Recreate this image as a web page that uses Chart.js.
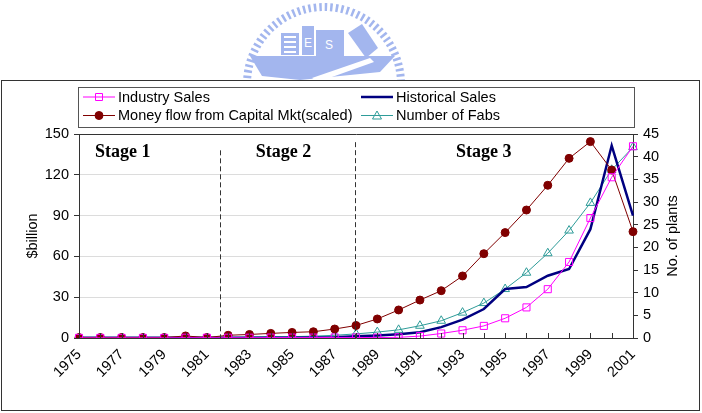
<!DOCTYPE html>
<html>
<head>
<meta charset="utf-8">
<script src="https://cdn.jsdelivr.net/npm/chart.js@4.4.0/dist/chart.umd.min.js"></script>
<style>
html, body { margin: 0; padding: 0; background: #fff; }
#wrap { position: relative; width: 702px; height: 413px; }
#logo, #chart { position: absolute; left: 0; top: 0; }
</style>
</head>
<body>
<div id="wrap">
  <svg id="logo" width="702" height="413">
    <g fill="#a3b6ee" stroke="none">
      <circle cx="324" cy="84" r="77" fill="none" stroke="#a3b6ee" stroke-width="8" stroke-dasharray="2.5 3"/>
      <rect x="281" y="33" width="18" height="22"/>
      <rect x="302" y="26" width="12" height="29"/>
      <rect x="316" y="30" width="28" height="26"/>
      <polygon points="348,33 362,24 378,48 366,58"/>
      <path d="M250,56 L395,56 L380,72 L300,80 L262,76 Z"/>
    </g>
    <g fill="#fff" font-family="Liberation Sans" font-size="12">
      <rect x="284" y="36" width="12" height="2"/><rect x="284" y="41" width="12" height="2"/>
      <rect x="284" y="46" width="12" height="2"/><rect x="284" y="51" width="12" height="2"/>
      <text x="304" y="47">E</text><text x="325" y="49">S</text>
      <path d="M312,78 L370,58 L374,62 L318,82 Z"/>
    </g>
  </svg>
  <canvas id="chart" width="702" height="413"></canvas>
</div>
<script>
// values
const years = ['1975','1976','1977','1978','1979','1980','1981','1982','1983','1984','1985','1986','1987','1988',
               '1989','1990','1991','1992','1993','1994','1995','1996','1997','1998','1999','2000','2001'];
const xTickLabels = ['1975','1977','1979','1981','1983','1985','1987','1989','1991','1993','1995','1997','1999','2001'];

// $billion (left axis)
const industrySales = [0.1,0.1,0.1,0.1,0.1,0.2,0.2,0.2,0.2,0.3,0.3,0.3,0.4,0.4,
                       0.3,0.5,1.4,3.3,5.7,8.9,14.5,22.5,35.9,55.9,88.2,118.2,141];
const moneyFlow = [0.3,0.3,0.3,0.3,0.3,1.5,0.3,2.0,2.6,3.4,4.1,4.6,6.6,9.2,
                   14,20.6,27.9,34.8,45.6,62,77.5,94.1,112.3,132.1,144.4,123.5,78.2];
const historicalSales = [0.2,0.2,0.2,0.2,0.2,0.2,0.2,0.2,0.2,0.2,0.2,0.3,0.5,1.2,
                         1.8,2.8,4.2,8,13.5,21.3,36,37.5,45.8,50.7,80,141.5,90];
// No. of plants (right axis)
const numberOfFabs = [0,0,0,0,0,0,0,0.1,0.2,0.3,0.3,0.4,0.6,0.9,
                      1.3,1.8,2.7,3.8,5.6,7.7,10.8,14.4,18.7,23.7,29.8,37.1,42.1];

const stages = [['Stage 1', 2.05], ['Stage 2', 9.6], ['Stage 3', 19]];
const dividers = [[6.6, 138], [12.95, 144]];

const FONT = 'Liberation Sans, Arial, sans-serif';
const DARK = '#333';

function marker(ctx, style, x, y, color, fill) {
  ctx.save();
  ctx.strokeStyle = color;
  ctx.fillStyle = fill;
  ctx.lineWidth = 1;
  ctx.beginPath();
  if (style === 'rect') {
    ctx.rect(x - 3.5, y - 3.5, 7, 7);
  } else if (style === 'circle') {
    ctx.arc(x, y, 4, 0, Math.PI * 2);
  } else if (style === 'triangle') {
    ctx.moveTo(x, y - 4.5); ctx.lineTo(x + 4.5, y + 3.5); ctx.lineTo(x - 4.5, y + 3.5); ctx.closePath();
  }
  if (style) { ctx.fill(); ctx.stroke(); }
  ctx.restore();
}

const framePlugin = {
  id: 'frame',
  beforeDraw(chart) {
    const ctx = chart.ctx;
    ctx.save();
    ctx.fillStyle = '#fff';
    ctx.fillRect(1, 80, 699, 331);
    ctx.strokeStyle = DARK;
    ctx.lineWidth = 1;
    ctx.strokeRect(1.5, 80.5, 698, 330);
    ctx.restore();
  },
  afterDatasetsDraw(chart) {
    const ctx = chart.ctx;
    const x = chart.scales.x, y = chart.scales.y;
    const area = chart.chartArea;
    ctx.save();
    // inside tick marks on the category axis
    ctx.strokeStyle = DARK;
    ctx.lineWidth = 1;
    years.forEach((yr, i) => {
      const px = Math.round(x.getPixelForValue(i)) + 0.5;
      ctx.beginPath();
      ctx.moveTo(px, area.bottom);
      ctx.lineTo(px, area.bottom - 5);
      ctx.stroke();
    });
    // stage dividers
    ctx.setLineDash([5, 3]);
    dividers.forEach(([at, top]) => {
      const px = Math.round(x.getPixelForValue(at)) + 0.5;
      ctx.beginPath();
      ctx.moveTo(px, y.getPixelForValue(top));
      ctx.lineTo(px, area.bottom);
      ctx.stroke();
    });
    ctx.setLineDash([]);
    ctx.fillStyle = '#000';
    ctx.font = 'bold 18px Liberation Serif, Times New Roman, serif';
    ctx.textAlign = 'center';
    ctx.textBaseline = 'alphabetic';
    stages.forEach(([label, at]) => {
      ctx.fillText(label, x.getPixelForValue(at), y.getPixelForValue(133));
    });
    // right axis title, reading bottom to top like the left one
    const y1 = chart.scales.y1;
    ctx.translate(y1.right - 29, (area.top + area.bottom) / 2);
    ctx.rotate(-Math.PI / 2);
    ctx.font = '14.5px ' + FONT;
    ctx.textBaseline = 'middle';
    ctx.fillText('No. of plants', 0, 0);
    ctx.restore();
  },
  afterDraw(chart) {
    // two-column legend box
    const ctx = chart.ctx;
    const ds = chart.data.datasets;
    ctx.save();
    ctx.fillStyle = '#fff';
    ctx.fillRect(78, 87, 557, 41);
    ctx.strokeStyle = '#555';
    ctx.lineWidth = 1;
    ctx.strokeRect(78.5, 87.5, 556, 40);
    const cells = [[0, 83, 97], [2, 361, 97], [1, 83, 115.5], [3, 361, 115.5]];
    ctx.font = '14.5px ' + FONT;
    ctx.textBaseline = 'middle';
    cells.forEach(([i, lx, ly]) => {
      const d = ds[i];
      ctx.strokeStyle = d.borderColor;
      ctx.lineWidth = d.borderWidth;
      ctx.beginPath();
      ctx.moveTo(lx, ly);
      ctx.lineTo(lx + 32, ly);
      ctx.stroke();
      if (d.pointRadius) marker(ctx, d.pointStyle, lx + 16, ly, d.borderColor, d.pointBackgroundColor);
      ctx.fillStyle = '#000';
      ctx.fillText(d.label, lx + 35, ly + 0.5);
    });
    ctx.restore();
  }
};

new Chart(document.getElementById('chart'), {
  type: 'line',
  data: {
    labels: years,
    datasets: [
      {
        label: 'Industry Sales',
        data: industrySales,
        yAxisID: 'y',
        borderColor: '#ff00ff',
        borderWidth: 1,
        pointStyle: 'rect',
        pointRadius: 5,
        pointBackgroundColor: 'rgba(255,255,255,0)',
        pointBorderColor: '#ff00ff',
        tension: 0
      },
      {
        label: 'Money flow from Capital Mkt(scaled)',
        data: moneyFlow,
        yAxisID: 'y',
        borderColor: '#800000',
        borderWidth: 1,
        pointStyle: 'circle',
        pointRadius: 4,
        pointBackgroundColor: '#800000',
        pointBorderColor: '#800000',
        tension: 0
      },
      {
        label: 'Historical Sales',
        data: historicalSales,
        yAxisID: 'y',
        borderColor: '#000080',
        borderWidth: 2.5,
        pointRadius: 0,
        tension: 0
      },
      {
        label: 'Number of Fabs',
        data: numberOfFabs,
        yAxisID: 'y1',
        borderColor: '#2e9c99',
        borderWidth: 1,
        pointStyle: 'triangle',
        pointRadius: 5,
        pointBackgroundColor: 'rgba(255,255,255,0)',
        pointBorderColor: '#2e9c99',
        tension: 0
      }
    ]
  },
  options: {
    responsive: false,
    animation: false,
    layout: { padding: { top: 134, left: 0, right: 0, bottom: 0 } },
    plugins: { legend: { display: false }, tooltip: { enabled: false } },
    scales: {
      x: {
        offset: false,
        afterFit: s => { s.height = 75; },
        grid: { display: false, drawTicks: false },
        border: { display: true, color: DARK },
        ticks: {
          autoSkip: false,
          maxRotation: 45,
          minRotation: 45,
          padding: 8,
          color: '#000',
          font: { family: FONT, size: 14.5 },
          callback: (v, i) => xTickLabels.includes(years[i]) ? years[i] : ''
        }
      },
      y: {
        position: 'left',
        min: 0,
        max: 150,
        afterFit: s => { s.width = 79; },
        grid: {
          color: c => c.tick.value === 150 ? DARK : '#dcdcdc',
          tickColor: DARK,
          tickLength: 5
        },
        border: { display: true, color: DARK },
        ticks: { stepSize: 30, padding: 5, color: '#000', font: { family: FONT, size: 14.5 } },
        title: {
          display: true,
          text: '$billion',
          color: '#000',
          font: { family: FONT, size: 14.5 },
          padding: { top: 24 }
        }
      },
      y1: {
        position: 'right',
        min: 0,
        max: 45,
        afterFit: s => { s.width = 69; },
        grid: { drawOnChartArea: false, tickColor: DARK, tickLength: 5 },
        border: { display: true, color: DARK },
        ticks: { stepSize: 5, padding: 5, color: '#000', font: { family: FONT, size: 14.5 } }
      }
    }
  },
  plugins: [framePlugin]
});
</script>
</body>
</html>
